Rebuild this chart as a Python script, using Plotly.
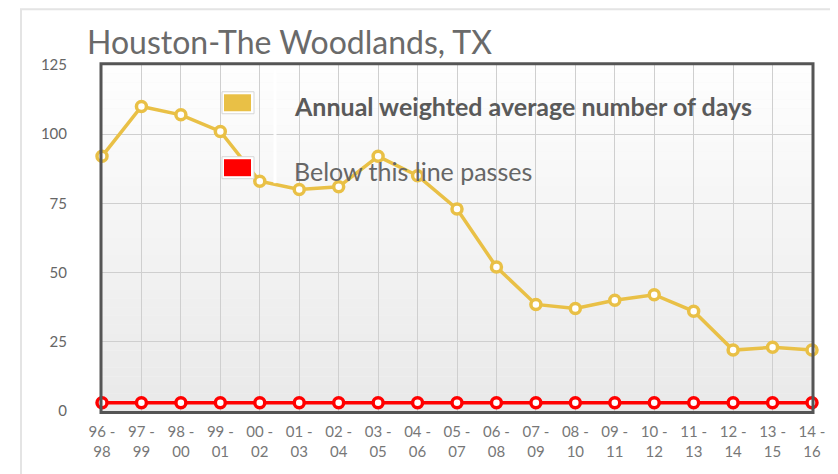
import plotly.graph_objects as go

periods = ["96 -<br>98", "97 -<br>99", "98 -<br>00", "99 -<br>01", "00 -<br>02", "01 -<br>03",
           "02 -<br>04", "03 -<br>05", "04 -<br>06", "05 -<br>07", "06 -<br>08", "07 -<br>09",
           "08 -<br>10", "09 -<br>11", "10 -<br>12", "11 -<br>13", "12 -<br>14", "13 -<br>15",
           "14 -<br>16"]
avg_days = [92, 110, 107, 101, 83, 80, 81, 92, 85, 73, 52, 38.5, 37, 40, 42, 36, 22, 23, 22]
threshold = [3] * len(periods)
series_names = ["Annual weighted average number of days", "Below this line passes"]
series_colors = ["#E9C046", "#FF0000"]
y_ticks = [0, 25, 50, 75, 100, 125]
title_text = "Houston-The Woodlands, TX"

OFF = 8  # page body margin
W, H = 838 - OFF, 474 - OFF

fig = go.Figure()
for vals, col in [(threshold, series_colors[1]), (avg_days, series_colors[0])]:
    fig.add_trace(go.Scatter(
        x=periods, y=vals, mode="lines+markers", showlegend=False,
        line=dict(color=col, width=3.5),
        marker=dict(size=10, color="white", line=dict(color=col, width=3.5)),
        cliponaxis=False, hoverinfo="x+y"))

shapes = []
n = 40
for i in range(n):
    t = i / (n - 1)
    c = int(round(233 + (254 - 233) * t))
    shapes.append(dict(type="rect", xref="paper", yref="paper", x0=0, x1=1,
                       y0=i / n, y1=(i + 1) / n, line=dict(width=0),
                       fillcolor=f"rgb({c},{c},{c})", layer="below"))

PW, PH, L, T = 710.0, 346.3, 102.0, 64.7
def px(x): return (x - L) / PW
def py(y): return 1 - (y - T) / PH

# outer card border
shapes.append(dict(type="rect", xref="paper", yref="paper", x0=px(21), x1=px(860),
                   y0=py(500), y1=py(9), line=dict(color="#e4e4e4", width=2), layer="below"))
# plot frame
shapes.append(dict(type="rect", xref="paper", yref="paper", x0=px(101), x1=px(813), y0=py(412.5), y1=py(63.5),
                   line=dict(color="#555555", width=3), layer="above"))
# legend strip
shapes.append(dict(type="line", xref="paper", yref="paper", x0=px(275), x1=px(275), y0=py(183), y1=py(70),
                   line=dict(color="rgba(255,255,255,0.9)", width=3), layer="above"))

annotations = []
for (y0, y1, ty), name, col, bold in zip([(94, 111, 106), (159, 176, 171)], series_names, series_colors, [True, False]):
    shapes.append(dict(type="rect", xref="paper", yref="paper", x0=px(222), x1=px(254),
                       y0=py(y1 + 2.5), y1=py(y0 - 2.5), line=dict(color="#d6d6d6", width=1),
                       fillcolor="white", layer="above"))
    shapes.append(dict(type="rect", xref="paper", yref="paper", x0=px(224), x1=px(251),
                       y0=py(y1), y1=py(y0), line=dict(width=0), fillcolor=col, layer="above"))
    annotations.append(dict(xref="paper", yref="paper", x=px(292), y=py(ty), xanchor="left",
                            yanchor="middle", showarrow=False,
                            text=f"<b>{name}</b>" if bold else name,
                            font=dict(family="Lato", size=25, color="#5a5a5a" if bold else "#666666")))

fig.update_layout(
    width=W, height=H,
    margin=dict(l=L - OFF, r=838 - 812, t=T - OFF, b=474 - 411),
    paper_bgcolor="white", plot_bgcolor="#f4f4f4",
    title=dict(text=title_text, x=(87 - OFF) / W, xanchor="left", xref="container",
               y=1 - (43 - OFF) / H, yanchor="middle", yref="container",
               font=dict(family="Lato", size=32, color="#6a6a6a")),
    xaxis=dict(range=[0, len(periods) - 1], showgrid=True, gridcolor="#cfcfcf", gridwidth=1,
               zeroline=False, showline=False, ticks="outside", ticklen=7,
               tickcolor="rgba(0,0,0,0)",
               tickfont=dict(family="Lato", size=15, color="#777777")),
    yaxis=dict(range=[0, 125], tickvals=y_ticks, showgrid=True, gridcolor="#cfcfcf",
               gridwidth=1, zeroline=False, showline=False, ticks="outside", ticklen=31,
               tickcolor="rgba(0,0,0,0)",
               tickfont=dict(family="Lato", size=15, color="#666666")),
    shapes=shapes, annotations=annotations,
)
fig.write_html("out.html")
